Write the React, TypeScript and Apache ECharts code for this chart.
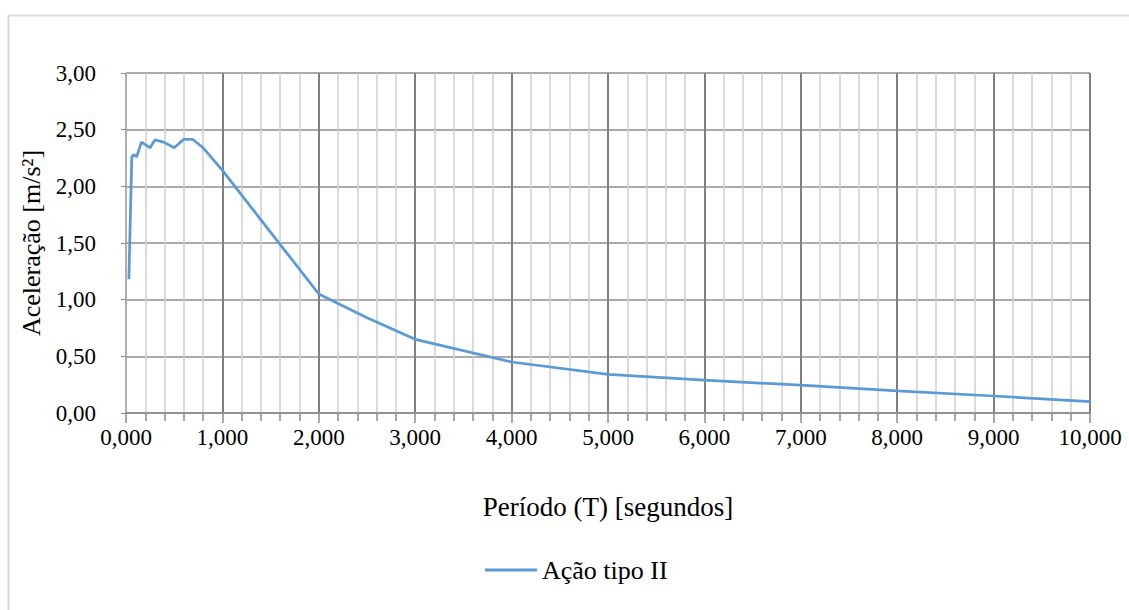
import React, { useEffect, useRef } from "react";
import * as echarts from "echarts";

const periods = [0.03, 0.06, 0.08, 0.11, 0.16, 0.25, 0.30, 0.39, 0.50, 0.60, 0.69, 0.80, 1.0, 2.0, 2.5, 3.0, 4.0, 5.0, 6.0, 7.0, 8.0, 9.0, 10.0];
const accel = [1.18, 2.26, 2.28, 2.26, 2.39, 2.34, 2.41, 2.39, 2.34, 2.415, 2.415, 2.34, 2.14, 1.05, 0.84, 0.65, 0.45, 0.34, 0.29, 0.245, 0.195, 0.15, 0.10];
const seriesName = "Ação tipo II";
const xTitle = "Período (T) [segundos]";
const yTitle = "Aceleração [m/s²]";

const FONT = "Liberation Serif, Times New Roman, serif";

export default function App() {
  const ref = useRef<HTMLDivElement>(null);
  useEffect(() => {
    if (!ref.current) return;
    const chart = echarts.init(ref.current, null, { renderer: "svg" });
    const data = periods.map((t, i) => [t, accel[i]]);
    chart.setOption({
      animation: false,
      backgroundColor: "#ffffff",
      textStyle: { fontFamily: FONT, color: "#000" },
      graphic: [
        {
          type: "rect",
          left: 6,
          top: 13,
          shape: { width: 1200, height: 700 },
          style: { fill: "none", stroke: "#d9d9d9", lineWidth: 2 },
          silent: true,
          z: -10,
        },
      ],
      grid: { left: 126, right: 39, top: 73, bottom: 197, containLabel: false },
      xAxis: {
        type: "value",
        min: 0,
        max: 10,
        interval: 1,
        name: xTitle,
        nameLocation: "middle",
        nameGap: 80,
        nameTextStyle: { fontFamily: FONT, fontSize: 27, color: "#000" },
        axisLine: { show: true, lineStyle: { color: "#8c8c8c", width: 1.5 } },
        axisTick: { show: true, length: 10, lineStyle: { color: "#8c8c8c", width: 1.5 } },
        minorTick: { show: true, splitNumber: 5, length: 8, lineStyle: { color: "#8c8c8c", width: 1.5 } },
        splitLine: { show: true, lineStyle: { color: "#808080", width: 2 } },
        minorSplitLine: { show: true, lineStyle: { color: "#cfcfcf", width: 1.5 } },
        axisLabel: {
          margin: 13,
          fontFamily: FONT,
          fontSize: 23,
          color: "#000",
          formatter: (v: number) => v.toFixed(3).replace(".", ","),
        },
      },
      yAxis: {
        type: "value",
        min: 0,
        max: 3,
        interval: 0.5,
        name: yTitle,
        nameLocation: "middle",
        nameGap: 78,
        nameTextStyle: { fontFamily: FONT, fontSize: 26, color: "#000" },
        axisLine: { show: true, lineStyle: { color: "#bfbfbf", width: 1.5 } },
        axisTick: { show: true, length: 5, lineStyle: { color: "#8c8c8c", width: 1 } },
        splitLine: { show: true, lineStyle: { color: "#8c8c8c", width: 1.5 } },
        axisLabel: {
          margin: 30,
          fontFamily: FONT,
          fontSize: 23,
          color: "#000",
          formatter: (v: number) => v.toFixed(2).replace(".", ","),
        },
      },
      legend: {
        bottom: 22,
        left: 480,
        icon: "rect",
        itemWidth: 52,
        itemHeight: 3,
        itemGap: 10,
        textStyle: { fontFamily: FONT, fontSize: 26, color: "#000" },
        data: [seriesName],
      },
      series: [
        {
          name: seriesName,
          type: "line",
          data,
          showSymbol: false,
          symbol: "none",
          lineStyle: { color: "#5b9bd5", width: 2.75 },
          itemStyle: { color: "#5b9bd5" },
        },
      ],
    });
    return () => chart.dispose();
  }, []);
  return (
    <div
      ref={ref}
      style={{ position: "fixed", left: 0, top: 0, width: 1129, height: 610, background: "#fff" }}
    />
  );
}
